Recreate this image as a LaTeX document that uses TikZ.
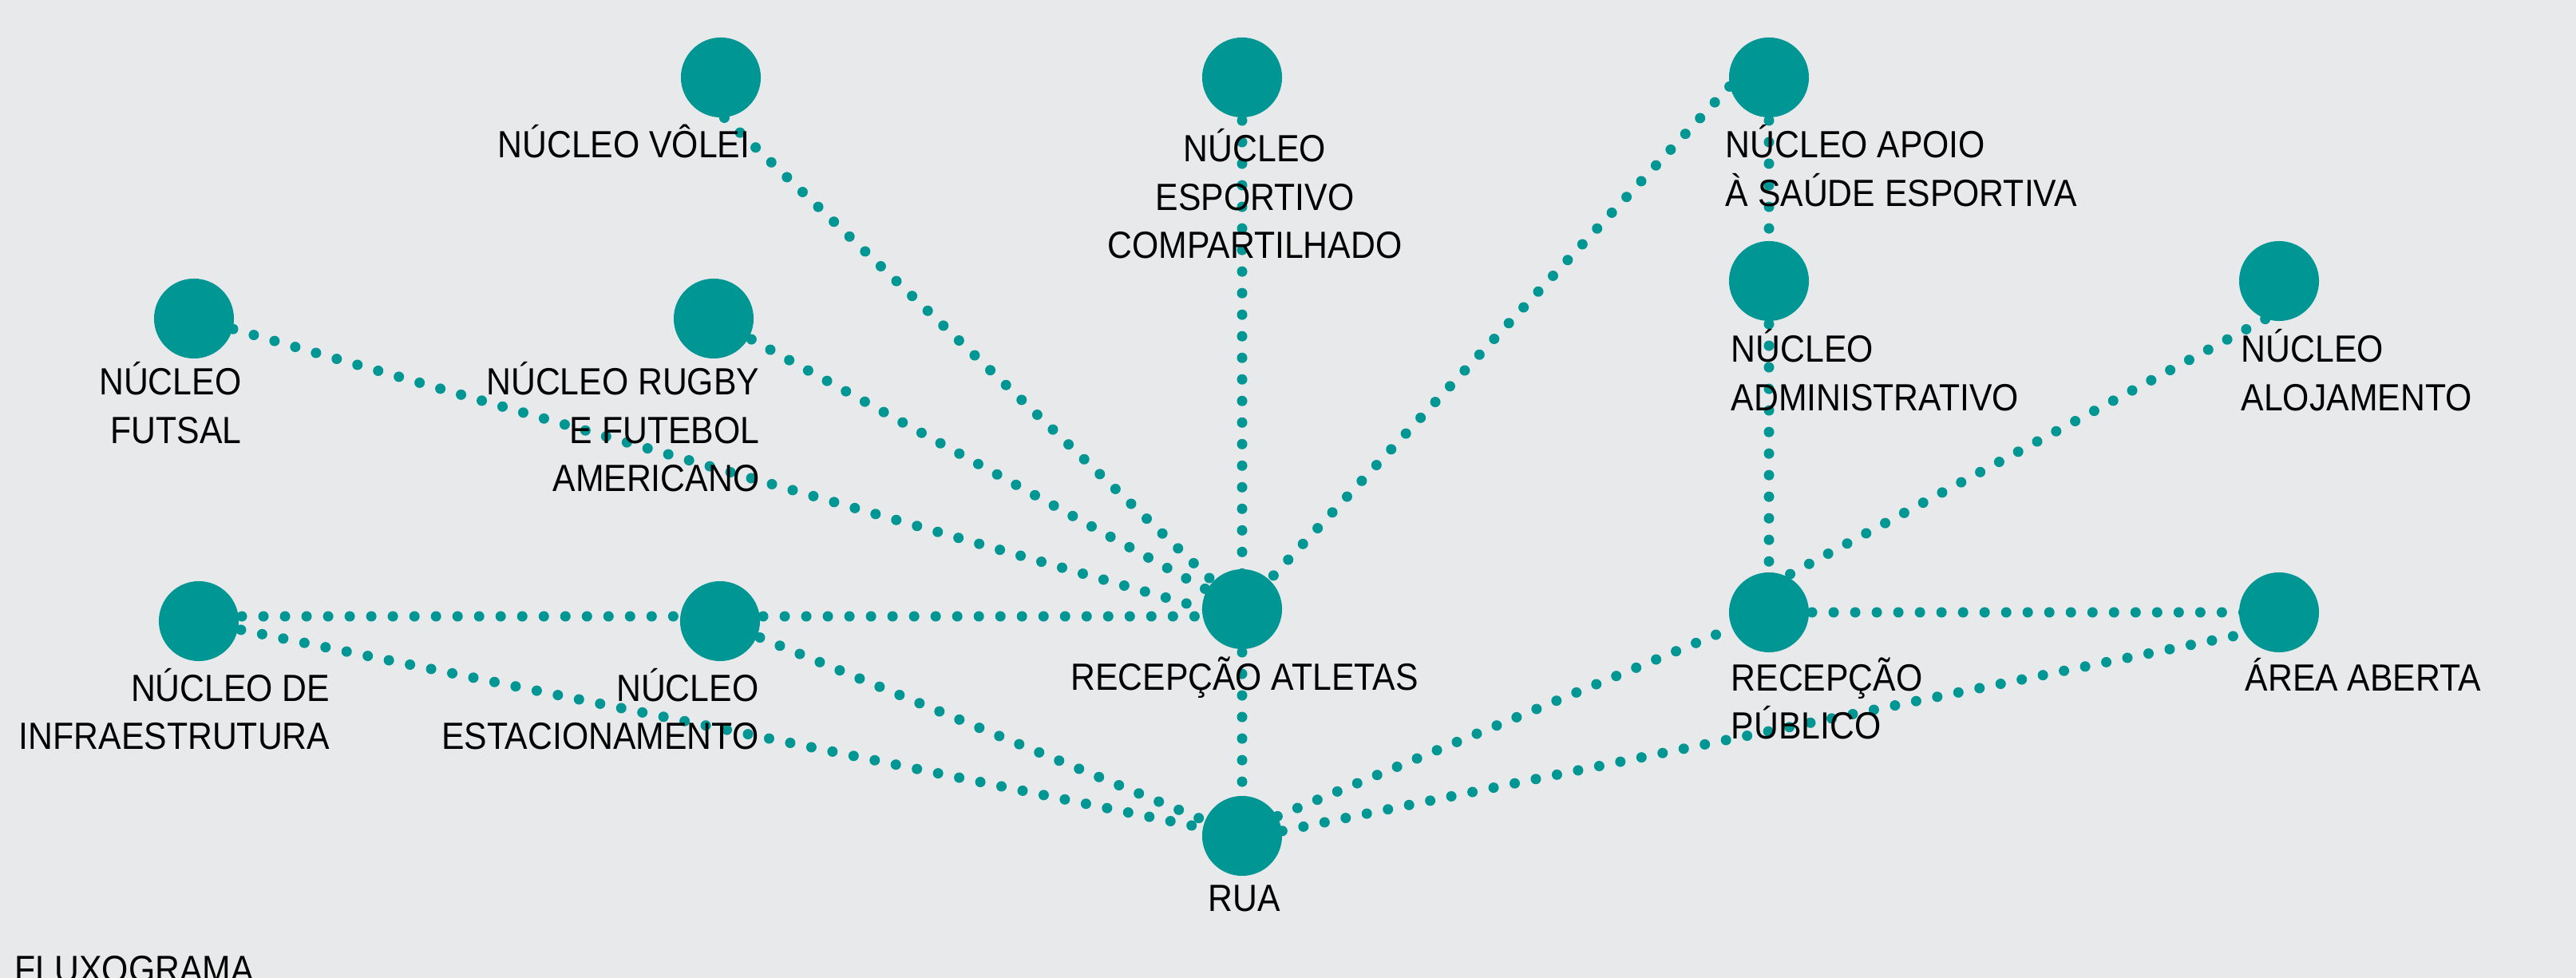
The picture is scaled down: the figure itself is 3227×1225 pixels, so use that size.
\documentclass[tikz,border=0pt]{standalone}
\usepackage{fontspec}
\setmainfont{Liberation Sans}[FakeStretch=0.9]
\usetikzlibrary{calc}
\definecolor{bgc}{RGB}{231,233,234}
\definecolor{tealc}{RGB}{0,150,148}
\pgfdeclarelayer{bg}
\pgfsetlayers{bg,main}
\newcommand{\lblR}[1]{\begin{tabular}[t]{@{}r@{}}#1\end{tabular}}
\newcommand{\lblL}[1]{\begin{tabular}[t]{@{}l@{}}#1\end{tabular}}
\newcommand{\lblC}[1]{\begin{tabular}[t]{@{}c@{}}#1\end{tabular}}
\begin{document}
\begin{tikzpicture}[x=0.01cm,y=-0.01cm,
  hub/.style={circle,fill=tealc,minimum size=1cm,inner sep=0pt},
  flow/.style={draw=tealc,line width=0.13cm,line cap=round,dash pattern=on 0pt off 0.27cm},
  lbl/.style={inner sep=0pt,font=\fontsize{13.5pt}{17.07pt}\selectfont}]
\useasboundingbox (0,0) rectangle (3227,1225);
\clip (0,0) rectangle (3227,1225);
\begin{pgfonlayer}{bg}
\fill[bgc] (0,0) rectangle (3227,1225);
\end{pgfonlayer}
% hubs
\node[hub] (volei)   at (903,97) {};
\node[hub] (compart) at (1556,97) {};
\node[hub] (apoio)   at (2216,97) {};
\node[hub] (futsal)  at (243,399) {};
\node[hub] (rugby)   at (894,399) {};
\node[hub] (admin)   at (2216,352) {};
\node[hub] (aloj)    at (2855,352) {};
\node[hub] (infra)   at (249,778) {};
\node[hub] (estac)   at (902,778) {};
\node[hub] (recatl)  at (1556,763) {};
\node[hub] (recpub)  at (2216,767) {};
\node[hub] (area)    at (2855,767) {};
\node[hub] (rua)     at (1556,1047) {};
% connectors
\begin{pgfonlayer}{bg}
\draw[flow] (volei.-85) -- (recatl.center);
\draw[flow] (compart.center) -- (recatl.center);
\draw[flow] (apoio.193) -- (recatl.center);
\draw[flow] (apoio.center) -- (admin.center);
\draw[flow] (admin.center) -- (recpub.center);
\draw[flow] (aloj.-110) -- (recpub.64);
\draw[flow] (futsal.-15) -- ($(recatl.center)+(0,13)$);
\draw[flow] (rugby.center) -- (recatl.center);
\draw[flow] ($(infra.center)+(0,-6)$) -- ($(estac.center)+(0,-6)$);
\draw[flow] ($(estac.center)+(0,-6)$) -- ($(recatl.center)+(0,9)$);
\draw[flow] (infra.center) -- (rua.center);
\draw[flow] (estac.center) -- (rua.center);
\draw[flow] (recatl.center) -- (rua.center);
\draw[flow] (rua.29) -- (recpub.203);
\draw[flow] (rua.7) -- (area.212);
\draw[flow] (recpub.center) -- (area.center);
\end{pgfonlayer}
% labels
\node[lbl,anchor=base east] (lvolei) at (940,198) {\lblR{NÚCLEO VÔLEI}};
\node[lbl,anchor=base] (lcompart) at (1572,203) {\lblC{NÚCLEO\\ESPORTIVO\\COMPARTILHADO}};
\node[lbl,anchor=base west] (lapoio) at (2161,198) {\lblL{NÚCLEO APOIO\\À SAÚDE ESPORTIVA}};
\node[lbl,anchor=base east] (lfutsal) at (303,495) {\lblR{NÚCLEO\\FUTSAL}};
\node[lbl,anchor=base east] (lrugby) at (952,495) {\lblR{NÚCLEO RUGBY\\E FUTEBOL\\AMERICANO}};
\node[lbl,anchor=base west] (ladmin) at (2168,454) {\lblL{NÚCLEO\\ADMINISTRATIVO}};
\node[lbl,anchor=base west] (laloj) at (2807,454) {\lblL{NÚCLEO\\ALOJAMENTO}};
\node[lbl,anchor=base east] (linfra) at (414,878) {\lblR{NÚCLEO DE\\INFRAESTRUTURA}};
\node[lbl,anchor=base east] (lestac) at (951,878) {\lblR{NÚCLEO\\ESTACIONAMENTO}};
\node[lbl,anchor=base] (lrecatl) at (1559,864) {RECEPÇÃO ATLETAS};
\node[lbl,anchor=base] (lrua) at (1559,1141) {RUA};
\node[lbl,anchor=base west] (lrecpub) at (2168,865) {\lblL{RECEPÇÃO\\PÚBLICO}};
\node[lbl,anchor=base west] (larea) at (2812,865) {ÁREA ABERTA};
\node[lbl,anchor=base west] (ltitle) at (18,1230) {FLUXOGRAMA};
\end{tikzpicture}
\end{document}
